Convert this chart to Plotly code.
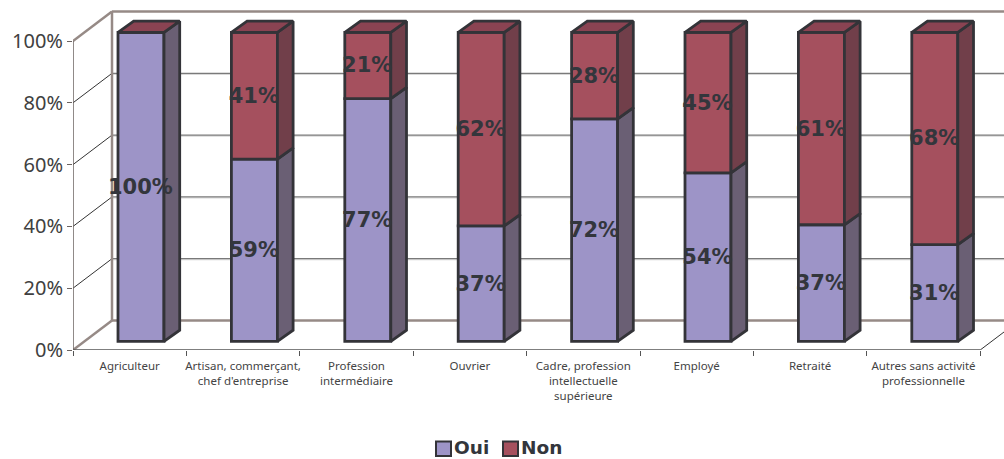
import plotly.graph_objects as go

categories = ["Agriculteur", "Artisan, commerçant,<br>chef d'entreprise", "Profession<br>intermédiaire",
              "Ouvrier", "Cadre, profession<br>intellectuelle<br>supérieure", "Employé", "Retraité",
              "Autres sans activité<br>professionnelle"]
oui = [100, 59, 77, 37, 72, 54, 37, 31]
non = [0, 41, 21, 62, 28, 45, 61, 68]
y_ticks = [0, 20, 40, 60, 80, 100]
legend_names = ["Oui", "Non"]

PX_X = 113.4
PX_Y = 3.09
W, H = 1004, 459
ML, MB = 73, 109
FONT = "DejaVu Sans"
FONT2 = "Noto Sans"

WALL = (39 / PX_X, 29.5 / PX_Y)
BAR0 = (11.3 / PX_X, 8.6 / PX_Y)
DEPTH = (15.7 / PX_X, 11.2 / PX_Y)
BW = 46 / PX_X
EDGE = "#333338"
OUI_F, OUI_S = "#9d94c7", "#6a5f74"
NON_F, NON_S, NON_T = "#a5505e", "#713f4a", "#8a4352"
WALLC = "#968a86"

n = len(categories)
share_oui = [o / (o + q) * 100 for o, q in zip(oui, non)]
share_non = [q / (o + q) * 100 for o, q in zip(oui, non)]
centers = [i + 0.5 + BAR0[0] for i in range(n)]

fig = go.Figure()
shapes = []


def seg(x0, y0, x1, y1, color, width):
    shapes.append(dict(type="line", xref="x", yref="y", x0=x0, y0=y0, x1=x1, y1=y1,
                       line=dict(color=color, width=width), layer="below"))


xmax = (W - ML) / PX_X
for t in y_ticks:
    if t not in (0, 100):
        seg(WALL[0], t + WALL[1] - 0.35, xmax, t + WALL[1] - 0.35, "#d4d4d4", 1)
        seg(WALL[0], t + WALL[1], xmax, t + WALL[1], "#5a5a5a", 1)
        seg(0, t, WALL[0], t + WALL[1], "#333333", 1)
seg(WALL[0], WALL[1], xmax, WALL[1], WALLC, 2.5)
seg(WALL[0], 100 + WALL[1], xmax, 100 + WALL[1], WALLC, 2.5)
seg(WALL[0], WALL[1], WALL[0], 100 + WALL[1], WALLC, 2.5)
seg(0, 0, WALL[0], WALL[1], WALLC, 2.5)
seg(0, 100, WALL[0], 100 + WALL[1], WALLC, 2.5)
seg(0, 0, 8, 0, "#555555", 1.5)
seg(8, 0, xmax, (xmax - 8) * WALL[1] / WALL[0], "#333333", 1)
seg(0, 0, 0, 100, "#6b6360", 1.5)

fig.add_trace(go.Bar(name="Oui", x=centers, y=share_oui, base=[BAR0[1]] * n, width=BW, showlegend=False,
                     marker=dict(color=OUI_F, line=dict(color=EDGE, width=2.8))))
fig.add_trace(go.Bar(name="Non", x=centers, y=share_non, base=[BAR0[1] + s for s in share_oui], width=BW,
                     showlegend=False, marker=dict(color=NON_F, line=dict(color=EDGE, width=2.8))))


def poly(xs, ys, color):
    fig.add_trace(go.Scatter(x=xs, y=ys, mode="lines", fill="toself", fillcolor=color,
                             line=dict(color=EDGE, width=2.8), showlegend=False, hoverinfo="skip"))


for i in range(n):
    r = centers[i] + BW / 2
    l = centers[i] - BW / 2
    b = BAR0[1]
    m = b + share_oui[i]
    top = m + share_non[i]
    poly([r, r + DEPTH[0], r + DEPTH[0], r, r], [b, b + DEPTH[1], m + DEPTH[1], m, b], OUI_S)
    if share_non[i] > 0:
        poly([r, r + DEPTH[0], r + DEPTH[0], r, r], [m, m + DEPTH[1], top + DEPTH[1], top, m], NON_S)
    poly([l, r, r + DEPTH[0], l + DEPTH[0], l], [top, top, top + DEPTH[1], top + DEPTH[1], top], NON_T)

LABEL_DY = -0.55
lab_x, lab_y, lab_t = [], [], []
for i in range(n):
    lab_x.append(centers[i] - 0.005)
    lab_y.append(BAR0[1] + share_oui[i] / 2 + LABEL_DY)
    lab_t.append(f"{oui[i]}%")
    if non[i]:
        lab_x.append(centers[i] - 0.005)
        lab_y.append(BAR0[1] + share_oui[i] + share_non[i] / 2 + LABEL_DY)
        lab_t.append(f"{non[i]}%")
fig.add_trace(go.Scatter(x=lab_x, y=lab_y, text=lab_t, mode="text", showlegend=False, hoverinfo="skip",
                         textposition="middle center",
                         textfont=dict(family=FONT, size=21, color="#33363c", weight="bold")))

# legend: swatch + label, placed in page fractions
annotations = []
for name, color, sx, tx in zip(legend_names, [OUI_F, NON_F], [436, 503], [455, 522]):
    shapes.append(dict(type="rect", xref="paper", yref="paper", layer="above",
                       x0=(sx - ML) / (W - ML), x1=(sx + 15 - ML) / (W - ML),
                       y0=(H - MB - 456) / (H - MB), y1=(H - MB - 441.5) / (H - MB),
                       fillcolor=color, line=dict(color=EDGE, width=2)))
    annotations.append(dict(xref="paper", yref="paper", x=(tx - ML) / (W - ML), y=(H - MB - 447) / (H - MB),
                            xanchor="left", yanchor="middle", showarrow=False, text=name,
                            borderpad=0, borderwidth=0, xshift=-1,
                            font=dict(family=FONT, size=18.5, color="#33363c", weight="bold")))

fig.update_layout(
    width=W, height=H, margin=dict(l=ML, r=0, t=0, b=MB), autosize=False,
    paper_bgcolor="white", plot_bgcolor="white", barmode="overlay", shapes=shapes, annotations=annotations,
    showlegend=False,
    xaxis=dict(range=[0, xmax], tickmode="array", tickvals=[i + 0.5 for i in range(n)], ticktext=categories,
               ticks="outside", ticklen=5, tickcolor="rgba(0,0,0,0)", showgrid=False, zeroline=False, showline=False,
               tickangle=0, tickfont=dict(family=FONT2, size=11.5, color="#444444"),
               minor=dict(tickmode="array", tickvals=list(range(n + 1)), ticks="outside", ticklen=5,
                          tickcolor="#555555", showgrid=False)),
    yaxis=dict(range=[0, (H - MB) / PX_Y], tickmode="array", tickvals=y_ticks, ticktext=[f"{t}%" for t in y_ticks],
               ticks="outside", ticklen=5, tickcolor="#6b6360", showgrid=False, zeroline=False,
               tickfont=dict(family=FONT2, size=20, color="#404040")),
)
fig.write_html("out.html", post_script="document.body.style.margin='0';", config={"displayModeBar": False})
